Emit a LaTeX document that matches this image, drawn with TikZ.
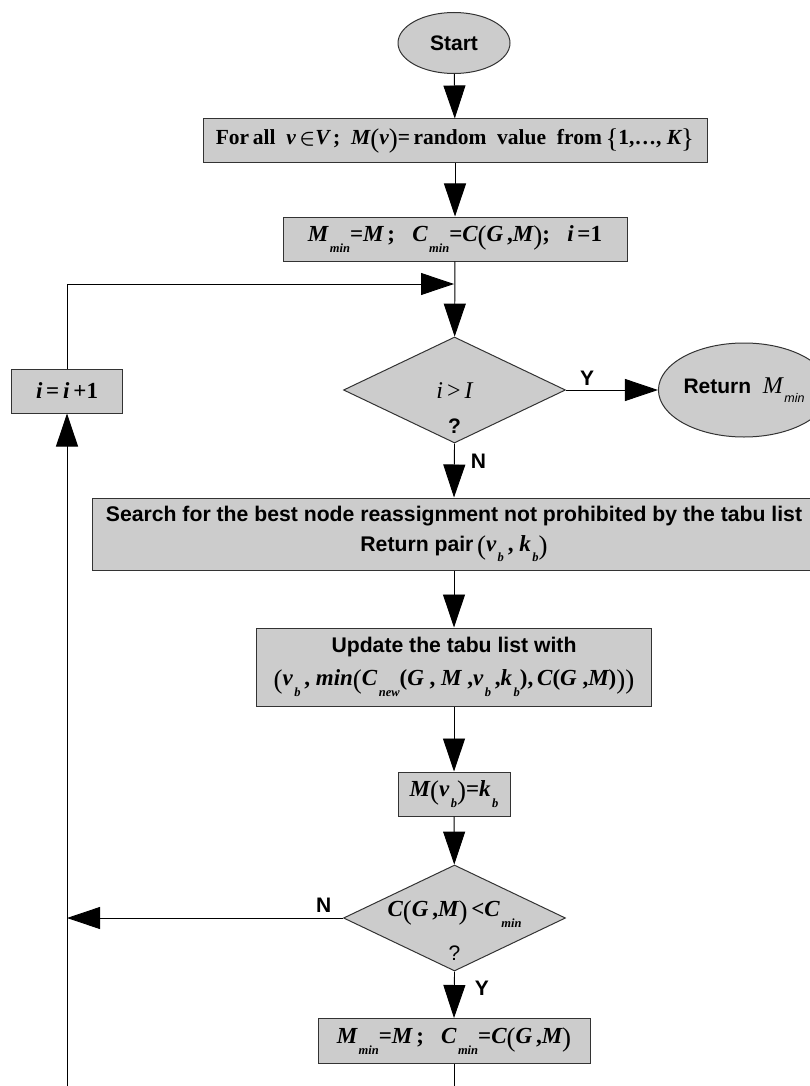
\documentclass[tikz,border=0pt]{standalone}
\usepackage{fontspec}
\setmainfont{Liberation Serif}
\setsansfont{Liberation Sans}
\usetikzlibrary{arrows.meta,shapes.geometric}

% bold italic variables, lowered subscripts, tall delimiters
\newcommand\mv[1]{{\bfseries\itshape #1}}
\newcommand\rv[1]{{\mdseries\itshape #1}}
\newcommand\subl[1]{\kern1.5pt\raisebox{-0.45em}{\fontsize{12.5}{12.5}\selectfont\bfseries\itshape #1}}
\newcommand\rsubl[1]{\kern1.5pt\raisebox{-0.45em}{\fontsize{12.5}{12.5}\selectfont\mdseries\itshape #1}}
\newcommand\bigdl[1]{\raisebox{-0.12em}{\fontsize{27}{27}\selectfont\mdseries\upshape #1}}
\newcommand\elem{\mbox{\boldmath$\in$}}

\definecolor{boxfill}{HTML}{CCCCCC}
\definecolor{edge}{HTML}{333333}

\tikzset{
  blk/.style={draw=edge, line width=1pt, fill=boxfill, inner sep=0pt},
  procbox/.style={blk, rectangle, align=center,
    font=\fontsize{21.5}{24}\selectfont\rmfamily\bfseries},
  mathbox/.style={procbox, font=\fontsize{23}{26}\selectfont\rmfamily\bfseries},
  termbox/.style={blk, ellipse,
    font=\fontsize{21}{24}\selectfont\sffamily\bfseries},
  decbox/.style={blk, diamond},
  sanslbl/.style={font=\fontsize{21}{24}\selectfont\sffamily\bfseries, inner sep=0pt},
  mathlbl/.style={font=\fontsize{24}{26}\selectfont\rmfamily, inner sep=0pt},
  flow/.style={line width=0.9pt, draw=black},
  arr/.style={flow, -{Triangle[length=33pt,width=22pt]}},
}

\begin{document}
\begin{tikzpicture}[x=1pt,y=-1pt]
\useasboundingbox (0,0) rectangle (810,1086);
\clip (0,0) rectangle (810,1086);

% terminals and process boxes
\node[termbox, minimum width=112pt, minimum height=61pt] (start) at (454,43) {Start};

\node[procbox, minimum width=504pt, minimum height=44pt] (init) at (455,141)
  {For\,all\ \ \mv{v}\,\elem\mv{V}\,;\ \ \mv{M}\bigdl{(}\mv{v}\bigdl{)}=\,random\ \ value\ \ from\,\bigdl{\{}1,\ldots,\ \mv{K}\bigdl{\}}};

\node[mathbox, minimum width=344pt, minimum height=44pt] (setmin) at (455,239)
  {\mv{M}\subl{min}=\mv{M}\,;\ \ \ \mv{C}\subl{min}=\mv{C}\bigdl{(}\mv{G}\,,\mv{M}\bigdl{)};\ \ \ \mv{i}\,=1};

% first test
\node[decbox, minimum width=222pt, minimum height=106pt] (dec1) at (454.5,390) {};
\node[mathlbl] (dec1txt) at (454.5,391) {\rv{i}\,>\,\rv{I}};
\node[sanslbl] (dec1q) at (454.5,426) {?};

\node[termbox, minimum width=155pt, minimum height=94pt] (ret) at (744,390)
  {Return\ \ {\rmfamily\mdseries\itshape\fontsize{24}{26}\selectfont M}\rsubl{min}};

\node[mathbox, minimum width=111pt, minimum height=44pt] (incr) at (67,391)
  {\mv{i}\,=\,\mv{i}\,+1};

\node[procbox, minimum width=724pt, minimum height=72pt, font=\fontsize{21.2}{30}\selectfont\sffamily\bfseries] (search) at (454,534)
  {Search for the best node reassignment not prohibited by the tabu list\\
   Return pair\,{\rmfamily\fontsize{23}{26}\selectfont\bigdl{(}\mv{v}\subl{b}\,,\ \mv{k}\subl{b}\bigdl{)}}};

\node[procbox, minimum width=395pt, minimum height=78pt, font=\fontsize{21.2}{33}\selectfont\sffamily\bfseries] (update) at (454,667)
  {Update the tabu list with\\
   {\rmfamily\fontsize{23}{26}\selectfont\bigdl{(}\mv{v}\subl{b}\,,\ \mv{min}\bigdl{(}\mv{C}\subl{new}(\mv{G}\ ,\ \mv{M}\ ,\mv{v}\subl{b}\,,\mv{k}\subl{b}),\,\mv{C}(\mv{G}\ ,\mv{M})\bigdl{)}\bigdl{)}}};

\node[mathbox, minimum width=112pt, minimum height=44pt] (assign) at (454,794)
  {\mv{M}\bigdl{(}\mv{v}\subl{b}\bigdl{)}=\mv{k}\subl{b}};

% second test
\node[decbox, minimum width=222pt, minimum height=106pt] (dec2) at (454.5,918) {};
\node[mathlbl, font=\fontsize{23}{26}\selectfont\rmfamily\bfseries] (dec2txt) at (454.5,914)
  {\mv{C}\bigdl{(}\mv{G}\,,\mv{M}\bigdl{)}\,<\mv{C}\subl{min}};
\node[inner sep=0pt, font=\fontsize{21}{24}\selectfont\sffamily] (dec2q) at (454.5,953) {?};

\node[mathbox, minimum width=272pt, minimum height=45pt] (final) at (454,1041)
  {\mv{M}\subl{min}=\mv{M}\,;\ \ \ \mv{C}\subl{min}=\mv{C}\bigdl{(}\mv{G}\,,\mv{M}\bigdl{)}};

% loose ends of the loop at the lower edge, and the join above the first test
\coordinate (join) at (454,284);
\coordinate (backN) at (67,918);
\coordinate (endA) at (454,1086);
\coordinate (endB) at (67,1086);

% connectors
\draw[arr] (start) -- (init);
\draw[arr] (init) -- (setmin);
\draw[arr] (setmin) -- (dec1);
\draw[arr] (incr.north) |- (join);
\draw[arr] (dec1.east) -- node[sanslbl, pos=0.23, above=4pt] (yes1) {Y} (ret.west);
\draw[arr] (dec1.south) -- node[sanslbl, pos=0.33, right=16pt] (no1) {N} (search.north);
\draw[arr] (search) -- (update);
\draw[arr] (update) -- (assign);
\draw[arr] (assign) -- (dec2);
\draw[arr] (dec2.west) -- node[sanslbl, pos=0.07, above=5pt] (no2) {N} (backN);
\draw[arr] (dec2.south) -- node[sanslbl, pos=0.35, right=20pt] (yes2) {Y} (final.north);
\draw[flow] (final.south) -- (endA);
\draw[arr] (endB) -- (incr.south);
\end{tikzpicture}
\end{document}
